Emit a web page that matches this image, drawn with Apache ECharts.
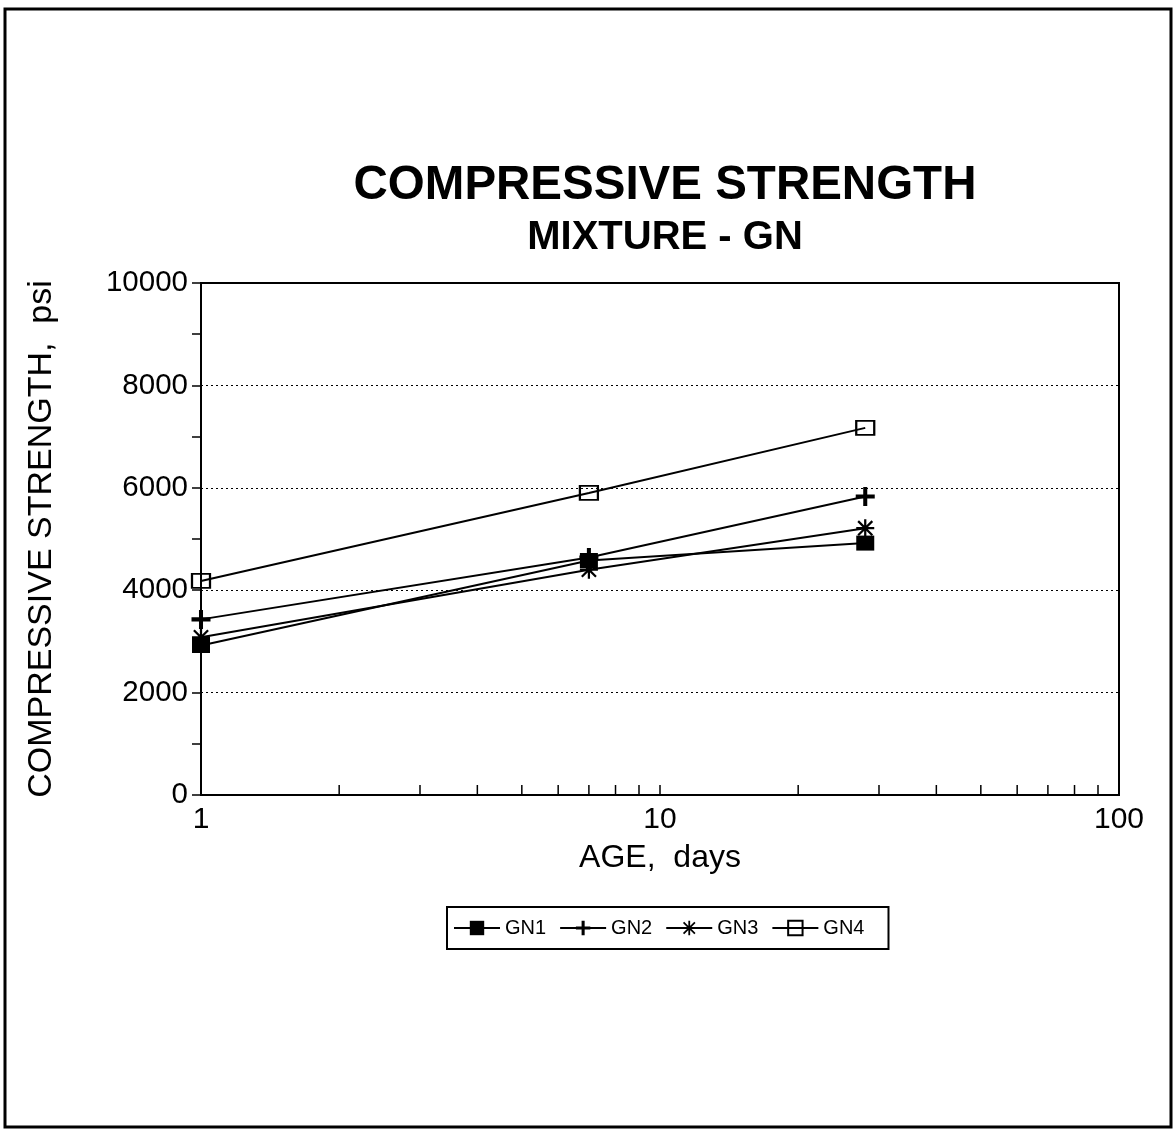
<!DOCTYPE html>
<html>
<head>
<meta charset="utf-8">
<title>Compressive Strength - Mixture GN</title>
<script src="https://cdn.jsdelivr.net/npm/echarts@6/dist/echarts.min.js"></script>
<style>
  html, body { margin: 0; padding: 0; background: #fff; }
  #chart { width: 1176px; height: 1131px; }
</style>
</head>
<body>
<div id="chart"></div>
<script>
// Test ages (days) and compressive strength (psi) for each mixture
const ages = [1, 7, 28];
const gn1 = [2920, 4580, 4920];
const gn2 = [3430, 4640, 5830];
const gn3 = [3080, 4400, 5210];
const gn4 = [4180, 5900, 7170];
const seriesNames = ['GN1', 'GN2', 'GN3', 'GN4'];
// Intermediate log-decade tick positions on the age axis
const minorAges = [2, 3, 4, 5, 6, 7, 8, 9, 20, 30, 40, 50, 60, 70, 80, 90];

const FONT = '"Liberation Sans", Arial, Helvetica, sans-serif';

// Marker shapes
const plusPath = 'path://M6.3,0H9.7V6.3H16V9.7H9.7V16H6.3V9.7H0V6.3H6.3Z';
const starPath = 'path://M7,0H9V16H7Z M0,7H16V9H0Z M1,2.4L2.4,1L15,13.6L13.6,15Z M13.6,1L15,2.4L2.4,15L1,13.6Z';

function pairs(vals) {
  return ages.map((a, i) => [a, vals[i]]);
}

function lineSeries(name, vals, symbol, size, itemStyle) {
  return {
    name: name,
    type: 'line',
    data: pairs(vals),
    symbol: symbol,
    symbolSize: size,
    symbolKeepAspect: true,
    showAllSymbol: true,
    lineStyle: { color: '#000', width: 2 },
    itemStyle: itemStyle || { color: '#000', borderWidth: 0 },
    emphasis: { disabled: true }
  };
}

const chart = echarts.init(document.getElementById('chart'), null, { renderer: 'canvas' });

chart.setOption({
  backgroundColor: '#fff',
  animation: false,
  graphic: [
    {
      type: 'rect',
      shape: { x: 5, y: 9, width: 1166, height: 1118 },
      style: { fill: 'none', stroke: '#000', lineWidth: 3 },
      silent: true
    },
    {
      type: 'text',
      x: 665, y: 186,
      style: {
        text: 'COMPRESSIVE STRENGTH',
        font: 'bold 47.5px ' + FONT,
        fill: '#000',
        align: 'center',
        verticalAlign: 'middle'
      }
    },
    {
      type: 'text',
      x: 665, y: 238,
      style: {
        text: 'MIXTURE - GN',
        font: 'bold 40px ' + FONT,
        fill: '#000',
        align: 'center',
        verticalAlign: 'middle'
      }
    }
  ],
  legend: {
    data: seriesNames,
    left: 447,
    top: 907,
    orient: 'horizontal',
    itemWidth: 46,
    itemHeight: 18,
    itemGap: 13,
    padding: [11, 24, 11, 6],
    borderColor: '#000',
    borderWidth: 2,
    selectedMode: false,
    textStyle: { color: '#000', fontSize: 20, fontFamily: FONT }
  },
  grid: {
    left: 201,
    right: 57,
    top: 283,
    bottom: 336,
    show: true,
    borderColor: '#000',
    borderWidth: 2,
    backgroundColor: 'transparent'
  },
  xAxis: {
    type: 'log',
    logBase: 10,
    min: 1,
    max: 100,
    name: 'AGE,  days',
    nameLocation: 'middle',
    nameGap: 47,
    nameTextStyle: { color: '#000', fontSize: 32, fontFamily: FONT },
    axisLine: { show: true, lineStyle: { color: '#000', width: 2 } },
    axisTick: { show: true, inside: true, length: 10, lineStyle: { color: '#000', width: 1.5 } },
    axisLabel: { color: '#000', fontSize: 30, fontFamily: FONT, margin: 10, formatter: v => String(v) },
    splitLine: { show: false }
  },
  yAxis: {
    type: 'value',
    min: 0,
    max: 10000,
    interval: 2000,
    name: 'COMPRESSIVE STRENGTH,  psi',
    nameLocation: 'middle',
    nameGap: 142,
    nameTextStyle: { color: '#000', fontSize: 34, fontFamily: FONT },
    axisLine: { show: true, lineStyle: { color: '#000', width: 2 } },
    axisTick: { show: true, length: 9, lineStyle: { color: '#000', width: 1.5 } },
    minorTick: { show: true, splitNumber: 2, length: 9, lineStyle: { color: '#000', width: 1.5 } },
    axisLabel: { color: '#000', fontSize: 29.5, fontFamily: FONT, margin: 13, formatter: v => String(v) },
    splitLine: { show: true, lineStyle: { color: '#000', width: 1.2, type: [2, 3] } }
  },
  series: [
    lineSeries('GN1', gn1, 'rect', [18, 15]),
    lineSeries('GN2', gn2, plusPath, [19, 19]),
    lineSeries('GN3', gn3, starPath, [18, 18]),
    lineSeries('GN4', gn4, 'rect', [18, 14],
      { color: 'rgba(255,255,255,0)', borderColor: '#000', borderWidth: 2 }),
    {
      name: 'minorTicks',
      type: 'custom',
      silent: true,
      data: minorAges.map(v => [v, 0]),
      renderItem: function (params, api) {
        const p = api.coord([api.value(0), 0]);
        return {
          type: 'line',
          shape: { x1: p[0], y1: p[1], x2: p[0], y2: p[1] - 10 },
          style: { stroke: '#000', lineWidth: 1.5 }
        };
      },
      z: 3
    }
  ]
});
</script>
</body>
</html>
